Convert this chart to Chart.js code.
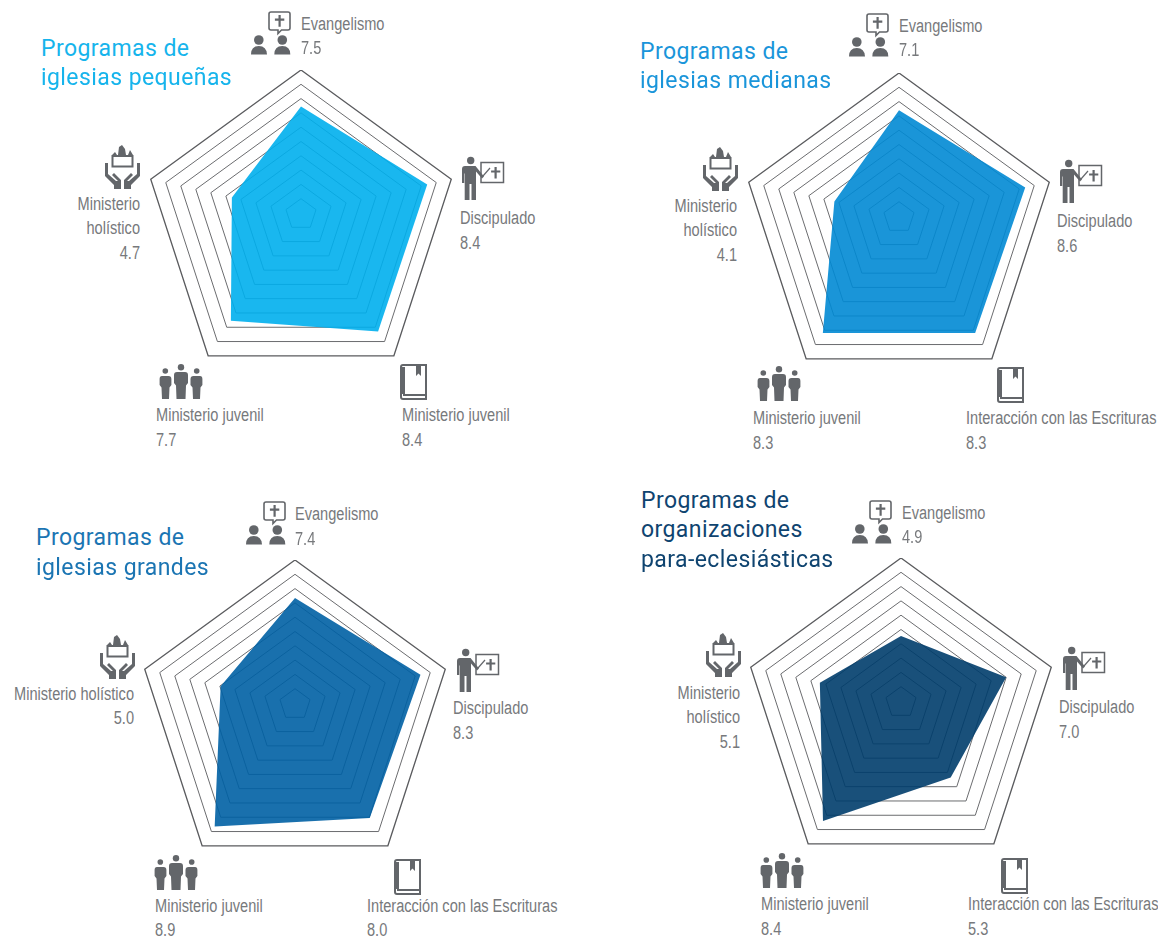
<!DOCTYPE html>
<html lang="es">
<head>
<meta charset="utf-8">
<title>Programas</title>
<script src="https://cdn.jsdelivr.net/npm/chart.js@4/dist/chart.umd.js"></script>
<style>
  html, body { margin: 0; padding: 0; background: #fff; }
  #page { position: relative; width: 1158px; height: 936px; overflow: hidden; }
  #page canvas { position: absolute; }
  /* no condensed font installed, so squeeze the sans */
  .label { position: absolute; white-space: nowrap; line-height: 1; color: #77797c;
           font: 18px "Liberation Sans", sans-serif; transform-origin: left center; transform: translateY(-50%) scaleX(.81); }
  .label.right { transform-origin: right center; transform: translate(-100%, -50%) scaleX(.81); }
  .title { position: absolute; white-space: nowrap; line-height: 1;
           font: 23px Roboto, "Noto Sans", sans-serif; letter-spacing: .42px; transform: translateY(-50%); }
  .icon { position: absolute; overflow: visible; }
</style>
</head>
<body>
<svg width="0" height="0" style="position:absolute">
  <defs>
    <symbol id="evangelismo" viewBox="0 0 41 44" overflow="visible">
      <path d="M20 1H37Q39 1 39 3V17Q39 19 37 19H30.5L27 22.5V19H20Q18 19 18 17V3Q18 1 20 1Z" fill="none" stroke="#63666a" stroke-width="1.6"/>
      <path d="M27.5 4h2.2v3.6h3.6v2.1h-3.6v6h-2.2v-6h-3.6v-2.1h3.6z" fill="#63666a"/>
      <circle cx="7.8" cy="29" r="4.8" fill="#63666a"/><circle cx="31.3" cy="29" r="4.8" fill="#63666a"/>
      <path d="M0 43.5Q0 35 7.8 35T16 43.5Z" fill="#63666a"/><path d="M23.3 43.5Q23.3 35 31.3 35T39.3 43.5Z" fill="#63666a"/>
    </symbol>
    <symbol id="discipulado" viewBox="0 0 44 46" overflow="visible">
      <circle cx="9.7" cy="5.5" r="3.7" fill="#63666a"/>
      <path d="M1 14Q1 11 4 11H14.5L23 21.5L21 23.5L15 16.5V45H10.5V29H8.5V45H3.7V18.5H3.2V28H1Z" fill="#63666a"/>
      <rect x="20" y="7.5" width="22.5" height="20" fill="none" stroke="#63666a" stroke-width="1.5"/>
      <path d="M22 21L29 13" stroke="#63666a" stroke-width="1.2"/>
      <path d="M33.5 12h2.2v3.4h3.6v2.1h-3.6v6h-2.2v-6h-3.4v-2.1h3.4z" fill="#63666a"/>
    </symbol>
    <symbol id="holistico" viewBox="0 0 37 45" overflow="visible">
      <rect x="9.5" y="11" width="20" height="10.5" fill="none" stroke="#63666a" stroke-width="2"/>
      <path d="M9 10L12 7L14 10ZM15 10L16 2L19 0L22 4L23 10ZM25 10L27 5L30 10Z" fill="#63666a"/>
      <path d="M2 18H5V29L13 36L15 36L9 30L11 28L18 35V44H11V40L2 31Z" fill="#63666a"/>
      <path d="M37 18H34V29L26 36L24 36L30 30L28 28L21 35V44H28V40L37 31Z" fill="#63666a"/>
    </symbol>
    <symbol id="juvenil" viewBox="0 0 44 36" overflow="visible">
      <circle cx="22" cy="3.2" r="3.2" fill="#63666a"/><circle cx="6.3" cy="7" r="2.8" fill="#63666a"/><circle cx="37.7" cy="7" r="2.8" fill="#63666a"/>
      <path d="M18 8H26Q29 8 29 11V19L27 21.5L26.5 35H17.5L17 21.5L15 19V11Q15 8 18 8Z" fill="#63666a"/>
      <path d="M3 12H9.5Q12.4 12 12.4 15V21L10.5 23.5L10 35H3L2.5 23.5L.6 21V15Q.6 12 3 12Z" fill="#63666a"/>
      <path d="M34.5 12H41Q43.4 12 43.4 15V21L41.5 23.5L41 35H34L33.5 23.5L31.5 21V15Q31.5 12 34.5 12Z" fill="#63666a"/>
    </symbol>
    <symbol id="escrituras" viewBox="0 0 27 36" overflow="visible">
      <path d="M3 1H26V35H3Q1 35 1 33V3Q1 1 3 1Z" fill="none" stroke="#63666a" stroke-width="2"/>
      <path d="M1 3H5V30H1Z" fill="#63666a"/>
      <path d="M3 30H26V32H3Z" fill="#63666a"/>
      <path d="M16 1H21V12L18.5 9.5L16 12Z" fill="#63666a"/>
    </symbol>
  </defs>
</svg>
<div id="page"></div>
<script>
// data
const categories = ["Evangelismo", "Discipulado", "Interacción con las Escrituras", "Ministerio juvenil", "Ministerio holístico"];
// printed next to each icon
const valoresPequenas = [7.5, 8.4, 8.4, 7.7, 4.7];
const valoresMedianas = [7.1, 8.6, 8.3, 8.3, 4.1];
const valoresGrandes = [7.4, 8.3, 8.0, 8.9, 5.0];
const valoresOrganizaciones = [4.9, 7.0, 5.3, 8.4, 5.1];
// polygons as read off the rings, they don't always agree with the printed number
const trazoPequenas = [7.45, 8.4, 8.3, 7.55, 4.6];
const trazoMedianas = [7.4, 8.4, 8.2, 8.2, 4.3];
const trazoGrandes = [7.35, 8.35, 8.05, 8.65, 4.95];
const trazoOrganizaciones = [4.55, 7.0, 5.35, 8.4, 5.4];
const escalaMax = 10;

// layout of each panel (x, y = centre of the pentagon in the page)
const paneles = [
  { valores: valoresPequenas, trazo: trazoPequenas, color: "rgba(0,175,237,.9)", titleColor: "#16b4ec", x: 301, y: 228,
    titulo: [["Programas de", 41, 48], ["iglesias pequeñas", 41, 77]],
    textos: [[301, 24, 48], [460, 218, 243], [402, 415, 440, "Ministerio juvenil"], [156, 415, 440], [140, 204, 253, "right", ["Ministerio", "holístico"]]],
    iconos: [[251, 11], [461, 155], [400, 364], [159, 364], [103, 145]] },
  { valores: valoresMedianas, trazo: trazoMedianas, color: "rgba(1,137,212,.9)", titleColor: "#1a95da", x: 899, y: 231,
    titulo: [["Programas de", 640, 51], ["iglesias medianas", 640, 80]],
    textos: [[899, 26, 50], [1057, 221, 246], [966, 418, 443], [753, 418, 443], [737, 206, 255, "right", ["Ministerio", "holístico"]]],
    iconos: [[849, 13], [1059, 158], [997, 367], [757, 366], [701, 147]] },
  { valores: valoresGrandes, trazo: trazoGrandes, color: "rgba(0,96,164,.9)", titleColor: "#1b75b3", x: 295, y: 718,
    titulo: [["Programas de", 36, 537], ["iglesias grandes", 36, 567]],
    textos: [[295, 514, 539], [453, 708, 733], [367, 906, 930], [155, 906, 930], [134, 694, 718, "right", ["Ministerio holístico"]]],
    iconos: [[246, 501], [456, 647], [394, 859], [154, 855], [98, 635]] },
  { valores: valoresOrganizaciones, trazo: trazoOrganizaciones, color: "rgba(0,61,107,.9)", titleColor: "#0f4470", x: 901, y: 716,
    titulo: [["Programas de", 641, 500], ["organizaciones", 641, 529], ["para-eclesiásticas", 641, 559]],
    textos: [[902, 513, 537], [1059, 707, 732], [968, 904, 929], [761, 904, 929], [740, 693, 742, "right", ["Ministerio", "holístico"]]],
    iconos: [[852, 500], [1062, 645], [1001, 858], [760, 853], [704, 633]] }
];
const simbolos = [["evangelismo", 41, 44], ["discipulado", 44, 46], ["escrituras", 27, 36], ["juvenil", 44, 36], ["holistico", 37, 45]];

const radio = 158;
const page = document.getElementById("page");

// rings in the reference are not concentric: each step in moves the centre up a little
class PentagonScale extends Chart.RadialLinearScale {
  static id = "pentagon";
  getPointPosition(index, distance, additionalAngle = 0) {
    const p = super.getPointPosition(index, distance, additionalAngle);
    p.y -= 1.5 * (escalaMax - escalaMax * distance / this.drawingArea);
    return p;
  }
}
Chart.register(PentagonScale);

function addText(cls, text, x, y, color) {
  const el = document.createElement("div");
  el.className = cls;
  el.textContent = text;
  el.style.left = x + "px";
  el.style.top = y + "px";
  if (color) el.style.color = color;
  page.appendChild(el);
}

function addIcon(simbolo, pos) {
  const ns = "http://www.w3.org/2000/svg";
  const svg = document.createElementNS(ns, "svg");
  svg.setAttribute("class", "icon");
  svg.setAttribute("width", simbolo[1]);
  svg.setAttribute("height", simbolo[2]);
  svg.style.left = pos[0] + "px";
  svg.style.top = pos[1] + "px";
  const use = document.createElementNS(ns, "use");
  use.setAttribute("href", "#" + simbolo[0]);
  svg.appendChild(use);
  page.appendChild(svg);
}

paneles.forEach((panel) => {
  const canvas = document.createElement("canvas");
  canvas.style.left = (panel.x - radio) + "px";
  canvas.style.top = (panel.y - radio) + "px";
  canvas.width = radio * 2;
  canvas.height = radio * 2;
  page.appendChild(canvas);

  new Chart(canvas, {
    type: "radar",
    data: {
      labels: categories,
      datasets: [{
        data: panel.trazo,
        backgroundColor: panel.color,
        borderWidth: 0,
        pointRadius: 0,
        fill: true
      }]
    },
    options: {
      responsive: false,
      animation: false,
      layout: { padding: 0 },
      plugins: { legend: { display: false }, tooltip: { enabled: false } },
      scales: {
        r: {
          type: "pentagon",
          min: 0,
          max: escalaMax,
          ticks: { display: false, stepSize: 1 },
          pointLabels: { display: false },
          angleLines: { display: false },
          grid: {
            color: (ctx) => ctx.tick.value === escalaMax ? "#5a5b5e" : "#6b6c6f",
            lineWidth: (ctx) => ctx.tick.value === escalaMax ? 1.3 : 1
          }
        }
      }
    }
  });

  panel.titulo.forEach((t) => addText("title", t[0], t[1], t[2], panel.titleColor));

  panel.textos.forEach((t, i) => {
    const right = t[3] === "right";
    const cls = right ? "label right" : "label";
    const lineas = right ? t[4] : [typeof t[3] === "string" ? t[3] : categories[i]];
    lineas.forEach((linea, n) => addText(cls, linea, t[0], t[1] + n * 24));
    addText(cls, panel.valores[i].toFixed(1), t[0], t[2]);
  });

  panel.iconos.forEach((pos, i) => addIcon(simbolos[i], pos));
});
</script>
</body>
</html>
